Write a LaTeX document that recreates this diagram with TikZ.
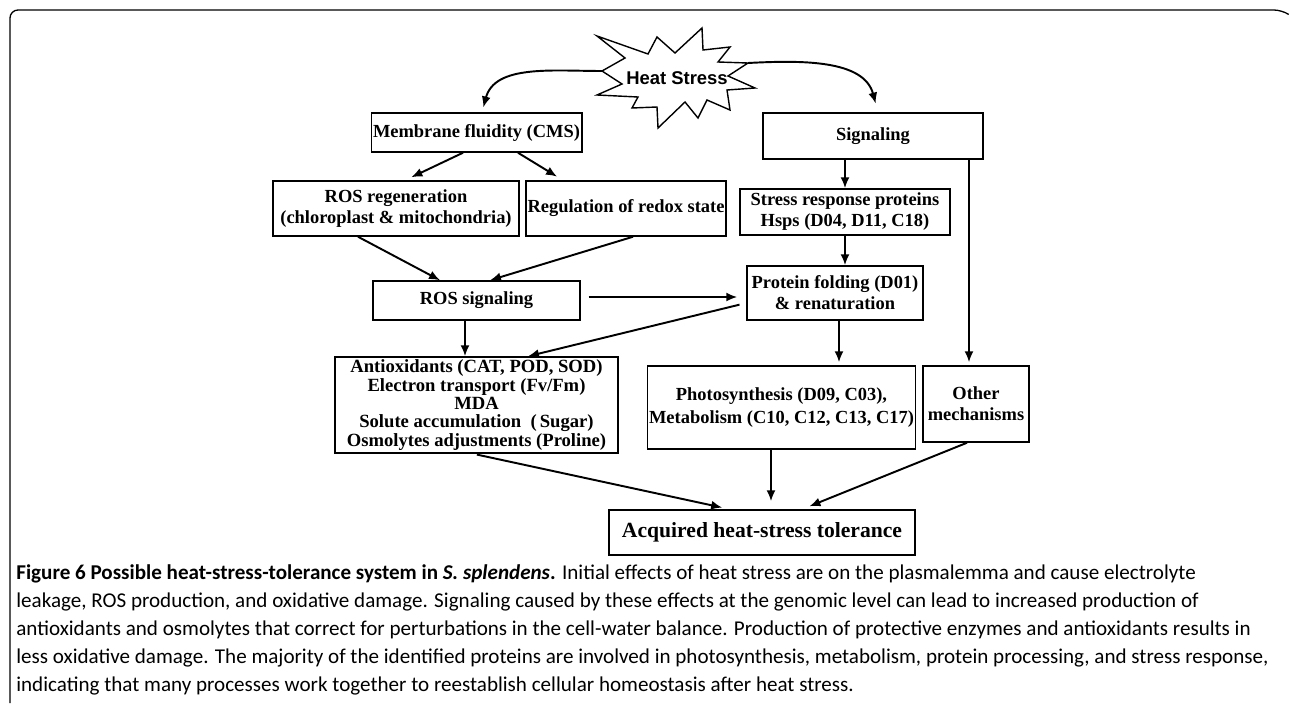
\documentclass[tikz,border=0pt]{standalone}
\usepackage{fontspec}
\setmainfont{Liberation Serif}
\newfontfamily\capfont{Carlito}
\newfontfamily\burstfont{Liberation Sans}
\usetikzlibrary{arrows.meta}

\begin{document}
\begin{tikzpicture}
  [x=0.02cm, y=-0.02cm,
   box/.style={rectangle, draw, line width=0.85pt, inner sep=1pt, align=center,
               font=\fontsize{10.5}{12}\selectfont\bfseries},
   burstline/.style={line width=0.8pt, line join=miter},
   arr/.style={-{Latex[length=2.2mm,width=1.8mm]}, line width=1.1pt},
   frame/.style={line width=0.75pt, rounded corners=0.16cm}]

  \useasboundingbox (0,0) rectangle (1290,703);

  % Moldura
  \draw[frame] (10,703) -- (10,10) -- (1282,10) -- (1288,14);

  % Estresse
  \draw[burstline] (597,36) -- (648,54) -- (657,37) -- (675,53) -- (702,28) -- (703,50)
    -- (730,47) -- (718,62) -- (748,63) -- (728,76) -- (755,88) -- (727,90)
    -- (730,110) -- (707,100) -- (698,118) -- (685,102) -- (658,128) -- (657,107)
    -- (632,108) -- (638,97) -- (597,95) -- (622,84) -- (602,71) -- (625,58) -- cycle;
  \node (heat) at (677,78) [font=\burstfont\fontsize{10.5}{12}\selectfont\bfseries,
    inner sep=0] {Heat Stress};
  \coordinate (burstL) at (602,71);
  \coordinate (burstR) at (748,63);

  % Ramo esquerdo
  \node (membrane) at (476.5,132.5) [box, minimum width=4.14cm, minimum height=0.78cm]
    {Membrane fluidity (CMS)};
  \node (rosregen) at (396,208.5) [box, minimum width=4.92cm, minimum height=1.10cm]
    {ROS regeneration\\(chloroplast \& mitochondria)};
  \node (redox) at (626,208.5) [box, minimum width=4.00cm, minimum height=1.10cm]
    {Regulation of redox state};
  \node (rossig) at (476.5,300.5) [box, minimum width=4.14cm, minimum height=0.78cm]
    {ROS signaling};
  \node (antiox) at (476.5,405) [box, minimum width=5.66cm, minimum height=1.92cm,
    font=\fontsize{10.6}{10.5}\selectfont\bfseries]
    {Antioxidants (CAT, POD, SOD)\\Electron transport (Fv/Fm)\\MDA\\
     Solute accumulation\enspace(\,Sugar)\\Osmolytes adjustments (Proline)};

  % Ramo direito
  \node (signaling) at (873,136) [box, minimum width=4.40cm, minimum height=0.92cm]
    {Signaling};
  \node (stressprot) at (845,212) [box, minimum width=4.20cm, minimum height=0.92cm]
    {Stress response proteins\\Hsps (D04, D11, C18)};
  \node (folding) at (835,293) [box, minimum width=3.52cm, minimum height=1.08cm]
    {Protein folding (D01)\\\& renaturation};
  \node (photo) at (781.5,407.5) [box, minimum width=5.34cm, minimum height=1.66cm,
    font=\fontsize{10.5}{13.2}\selectfont\bfseries]
    {Photosynthesis (D09, C03),\\Metabolism (C10, C12, C13, C17)};
  \node (other) at (976,404) [box, minimum width=2.12cm, minimum height=1.52cm]
    {Other\\mechanisms};

  % Resultado
  \node (acquired) at (762,532.5) [box, minimum width=6.12cm, minimum height=0.90cm,
    font=\fontsize{12.3}{14}\selectfont\bfseries]
    {Acquired heat-stress tolerance};

  % Setas
  \draw[arr, shorten >=0.1cm] (burstL) to[out=180, in=75] ([xshift=0.11cm]membrane.north);
  \draw[arr, shorten >=0.18cm] (burstR) to[out=3, in=105] ([xshift=0.1cm]signaling.north);

  \draw[arr, shorten >=0.14cm] ([xshift=-0.27cm]membrane.south) -- ([xshift=0.18cm]rosregen.north);
  \draw[arr, shorten >=0.14cm] ([xshift=0.83cm]membrane.south) -- ([xshift=-1.26cm]redox.north);
  \draw[arr] ([xshift=-0.76cm]rosregen.south) -- ([xshift=-0.73cm]rossig.north);
  \draw[arr] ([xshift=0.14cm]redox.south) -- ([xshift=0.27cm]rossig.north);
  \draw[arr] ([xshift=-0.23cm]rossig.south) -- ([xshift=-0.23cm]antiox.north);
  \draw[arr, shorten <=0.16cm, shorten >=0.18cm]
    ([yshift=0.07cm]rossig.east) -- ([yshift=0.07cm]rossig.east -| folding.west);
  \draw[arr, shorten <=0.14cm] ([yshift=-0.2cm]folding.west) -- ([xshift=1.03cm]antiox.north);

  \draw[arr] (signaling.south -| stressprot.north) -- (stressprot.north);
  \draw[arr] (stressprot.south) -- (stressprot.south |- folding.north);
  \draw[arr, shorten >=0.06cm] ([xshift=-0.14cm]other.north |- signaling.south)
    -- ([xshift=-0.14cm]other.north);
  \draw[arr, shorten >=0.06cm] ([xshift=0.08cm]folding.south) -- ([xshift=0.08cm]folding.south |- photo.north);

  \draw[arr, shorten <=0.08cm, shorten >=0.16cm] ([xshift=-0.07cm]antiox.south) -- ([xshift=-0.64cm]acquired.north);
  \draw[arr, shorten >=0.16cm] ([xshift=-0.21cm]photo.south) -- ([xshift=-0.21cm]photo.south |- acquired.north);
  \draw[arr, shorten >=0.16cm] ([xshift=-0.18cm]other.south) -- ([xshift=0.8cm]acquired.north);

  % Legenda
  \node (caption) at (16,564) [anchor=north west, align=left, inner sep=0,
    font=\capfont\fontsize{12}{16}\selectfont]
    {\textbf{Figure 6 Possible heat-stress-tolerance system in \textit{S. splendens}.} Initial effects of heat stress are on the plasmalemma and cause electrolyte\\
     leakage, ROS production, and oxidative damage. Signaling caused by these effects at the genomic level can lead to increased production of\\
     antioxidants and osmolytes that correct for perturbations in the cell-water balance. Production of protective enzymes and antioxidants results in\\
     less oxidative damage. The majority of the identified proteins are involved in photosynthesis, metabolism, protein processing, and stress response,\\
     indicating that many processes work together to reestablish cellular homeostasis after heat stress.};
\end{tikzpicture}
\end{document}
